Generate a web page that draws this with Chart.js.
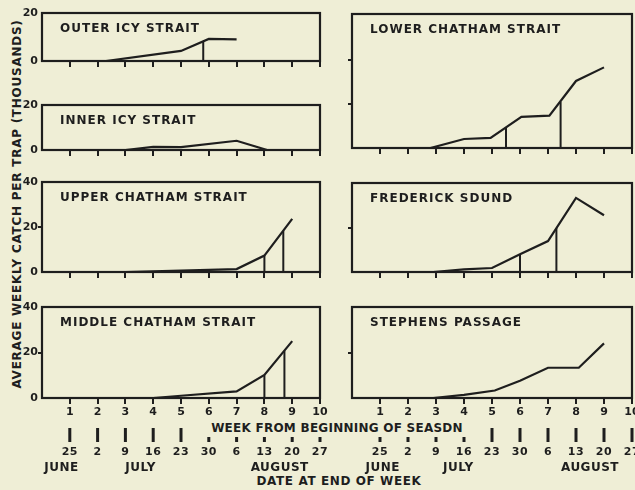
<!DOCTYPE html>
<html>
<head>
<meta charset="utf-8">
<script src="https://cdn.jsdelivr.net/npm/chart.js@4.4.1/dist/chart.umd.min.js"></script>
<style>
    body { margin: 0; background: #efeed6; }
    #wrap { position: relative; width: 635px; height: 490px; overflow: hidden; background: #efeed6;
            font-family: "DejaVu Sans", sans-serif; color: #1e1e1e; }
    #wrap canvas { position: absolute; }
    .lbl { position: absolute; font-weight: bold; font-size: 12px; line-height: 1; white-space: nowrap;
           transform: translate(-50%, -50%); }
    #ytitle { left: 17px; top: 204px; letter-spacing: 0.75px; transform: translate(-50%, -50%) rotate(-90deg); }
    #wtitle { left: 337px; top: 428px; letter-spacing: 0.25px; }
    #dtitle { left: 339px; top: 481px; letter-spacing: 0.6px; }
</style>
</head>
<body>
<div id="wrap">
    <div class="lbl" id="ytitle">AVERAGE WEEKLY CATCH PER TRAP (THOUSANDS)</div>
    <div class="lbl" id="wtitle">WEEK FROM BEGINNING OF SEASDN</div>
    <div class="lbl" id="dtitle">DATE AT END OF WEEK</div>
</div>
<script>
const ink = '#1e1e1e'

// axis labels
const weekNumbers = [1, 2, 3, 4, 5, 6, 7, 8, 9, 10]
const dateLabels = ['25', '2', '9', '16', '23', '30', '6', '13', '20', '27']
const monthLabels = ['JUNE', 'JULY', 'AUGUST']
const monthWeeksLeft = [0.7, 3.55, 8.55]
const monthWeeksRight = [1.1, 3.8, 8.5]
const fullWeeksLeft = [1, 2, 3, 4, 5]
const fullWeeksRight = [5, 6, 7, 8, 9, 10]

// catch per trap, thousands, by week
const outerIcyWeeks = [2.3, 5, 6, 7]
const outerIcyCatch = [0, 4.2, 9.2, 9]
const outerIcyMarkWeeks = [5.8]
const outerIcyMarkCatch = [8.2]

const innerIcyWeeks = [3, 4, 5, 7, 8.1]
const innerIcyCatch = [0, 1.4, 1.3, 4.1, 0]

const upperChathamWeeks = [3, 5, 7, 8, 9]
const upperChathamCatch = [0, 0.6, 1.3, 7.3, 23.6]
const upperChathamMarkWeeks = [8, 8.68]
const upperChathamMarkCatch = [7.3, 18.3]

const middleChathamWeeks = [4, 5, 7, 8, 9]
const middleChathamCatch = [0, 1, 2.9, 10.1, 25]
const middleChathamMarkWeeks = [8, 8.72]
const middleChathamMarkCatch = [10, 20.7]

const lowerChathamWeeks = [2.8, 4, 4.95, 6.05, 7.05, 8, 9]
const lowerChathamCatch = [0, 4.1, 4.6, 14.2, 14.7, 30.5, 36.7]
const lowerChathamMarkWeeks = [5.5, 7.45]
const lowerChathamMarkCatch = [9.4, 21]

const frederickWeeks = [2.9, 4, 5, 6, 7, 8, 9]
const frederickCatch = [0, 1.2, 1.8, 8, 13.9, 33.3, 25.5]
const frederickMarkWeeks = [6, 7.3]
const frederickMarkCatch = [8, 19.7]

const stephensWeeks = [2.9, 4, 5.1, 6, 7, 8.1, 9]
const stephensCatch = [0, 1.4, 3.3, 7.6, 13.3, 13.3, 24]

const columns = {
    left: { x: 0, w: 330, areaLeft: 42, areaRight: 320, yLabels: true, full: fullWeeksLeft, months: monthWeeksLeft },
    right: { x: 330, w: 320, areaLeft: 352, areaRight: 632, yLabels: false, full: fullWeeksRight, months: monthWeeksRight }
}

const panels = [
    { title: 'OUTER ICY STRAIT', col: 'left', top: 13, bottom: 61, yMax: 20, yTicks: [0, 20],
      weeks: outerIcyWeeks, values: outerIcyCatch, markWeeks: outerIcyMarkWeeks, markValues: outerIcyMarkCatch },
    { title: 'INNER ICY STRAIT', col: 'left', top: 105, bottom: 150, yMax: 20, yTicks: [0, 20],
      weeks: innerIcyWeeks, values: innerIcyCatch },
    { title: 'UPPER CHATHAM STRAIT', col: 'left', top: 182, bottom: 272, yMax: 40, yTicks: [0, 20, 40],
      weeks: upperChathamWeeks, values: upperChathamCatch, markWeeks: upperChathamMarkWeeks, markValues: upperChathamMarkCatch },
    { title: 'MIDDLE CHATHAM STRAIT', col: 'left', top: 307, bottom: 398, yMax: 40, yTicks: [0, 20, 40], dates: true,
      weeks: middleChathamWeeks, values: middleChathamCatch, markWeeks: middleChathamMarkWeeks, markValues: middleChathamMarkCatch },
    { title: 'LOWER CHATHAM STRAIT', col: 'right', top: 14, bottom: 148, yMax: 61, yTicks: [0, 20, 40],
      weeks: lowerChathamWeeks, values: lowerChathamCatch, markWeeks: lowerChathamMarkWeeks, markValues: lowerChathamMarkCatch },
    { title: 'FREDERICK SDUND', col: 'right', top: 183, bottom: 272, yMax: 40, yTicks: [0, 20, 40],
      weeks: frederickWeeks, values: frederickCatch, markWeeks: frederickMarkWeeks, markValues: frederickMarkCatch },
    { title: 'STEPHENS PASSAGE', col: 'right', top: 307, bottom: 398, yMax: 40, yTicks: [0, 20, 40], dates: true,
      weeks: stephensWeeks, values: stephensCatch }
]

// frame, panel name and the date row under the bottom panels
const panelDecor = {
    id: 'panelDecor',
    afterDraw(chart, args, opts) {
        const { ctx, chartArea: a } = chart
        ctx.save()
        ctx.strokeStyle = ink
        ctx.lineWidth = 2.2
        ctx.strokeRect(a.left, a.top, a.right - a.left, a.bottom - a.top)
        ctx.fillStyle = ink
        ctx.font = 'bold 12px "DejaVu Sans"'
        ctx.letterSpacing = '1px'
        ctx.textAlign = 'left'
        ctx.textBaseline = 'alphabetic'
        ctx.fillText(opts.title, a.left + 18, a.top + 19)

        if (opts.dates) {
            const xs = chart.scales.x
            const b = a.bottom
            ctx.font = 'bold 11px "DejaVu Sans"'
            ctx.letterSpacing = '0.5px'
            ctx.textAlign = 'center'
            ctx.textBaseline = 'middle'
            weekNumbers.forEach((w, i) => {
                const px = xs.getPixelForValue(w)
                const tall = opts.full.includes(w)
                ctx.fillRect(px - 1.5, b + (tall ? 30 : 39), 3, tall ? 14 : 5)
                ctx.fillText(dateLabels[i], px, b + 54)
            })
            ctx.font = 'bold 12px "DejaVu Sans"'
            monthLabels.forEach((m, i) => {
                ctx.fillText(m, xs.getPixelForValue(opts.months[i]), b + 70)
            })
        }
        ctx.restore()
    }
}

const wrap = document.getElementById('wrap')
const padTop = 10

panels.forEach(p => {
    const col = columns[p.col]
    const bottomH = p.dates ? 490 - p.bottom : 10
    const canvas = document.createElement('canvas')
    canvas.width = col.w
    canvas.height = padTop + (p.bottom - p.top) + bottomH
    canvas.style.left = col.x + 'px'
    canvas.style.top = (p.top - padTop) + 'px'
    wrap.appendChild(canvas)

    const datasets = [{
        data: p.weeks.map((w, i) => ({ x: w, y: p.values[i] })),
        borderColor: ink,
        borderWidth: 2.2
    }]
    ;(p.markWeeks || []).forEach((w, i) => {
        datasets.push({
            data: [{ x: w, y: 0 }, { x: w, y: p.markValues[i] }],
            borderColor: ink,
            borderWidth: 2
        })
    })

    new Chart(canvas.getContext('2d'), {
        type: 'line',
        data: { datasets },
        options: {
            responsive: false,
            animation: false,
            devicePixelRatio: 1,
            elements: { point: { radius: 0 }, line: { tension: 0, fill: false } },
            layout: { padding: { top: padTop, right: col.w - (col.areaRight - col.x), left: 0, bottom: 0 } },
            scales: {
                x: {
                    type: 'linear',
                    min: 0,
                    max: 10,
                    afterBuildTicks: s => { s.ticks = weekNumbers.map(v => ({ value: v })) },
                    afterFit: s => { s.height = bottomH },
                    border: { display: false },
                    grid: {
                        drawOnChartArea: false,
                        tickLength: 6,
                        lineWidth: 2,
                        color: ink
                    },
                    ticks: {
                        display: !!p.dates,
                        autoSkip: false,
                        maxRotation: 0,
                        padding: 2,
                        color: ink,
                        font: { family: 'DejaVu Sans', size: 11, weight: 'bold' }
                    }
                },
                y: {
                    min: 0,
                    max: p.yMax,
                    afterBuildTicks: s => { s.ticks = p.yTicks.map(v => ({ value: v })) },
                    afterFit: s => { s.width = col.areaLeft - col.x },
                    border: { display: false },
                    grid: {
                        drawOnChartArea: false,
                        tickLength: 4,
                        lineWidth: 2,
                        color: ink,
                        tickColor: c => (c.tick && c.tick.value > 0 && c.tick.value < p.yMax) ? ink : 'rgba(0,0,0,0)'
                    },
                    ticks: {
                        display: col.yLabels,
                        padding: 0,
                        color: ink,
                        font: { family: 'DejaVu Sans', size: 11, weight: 'bold' }
                    }
                }
            },
            plugins: {
                legend: { display: false },
                tooltip: { enabled: false },
                panelDecor: { title: p.title, dates: !!p.dates, full: col.full, months: col.months }
            }
        },
        plugins: [panelDecor]
    })
})
</script>
</body>
</html>
